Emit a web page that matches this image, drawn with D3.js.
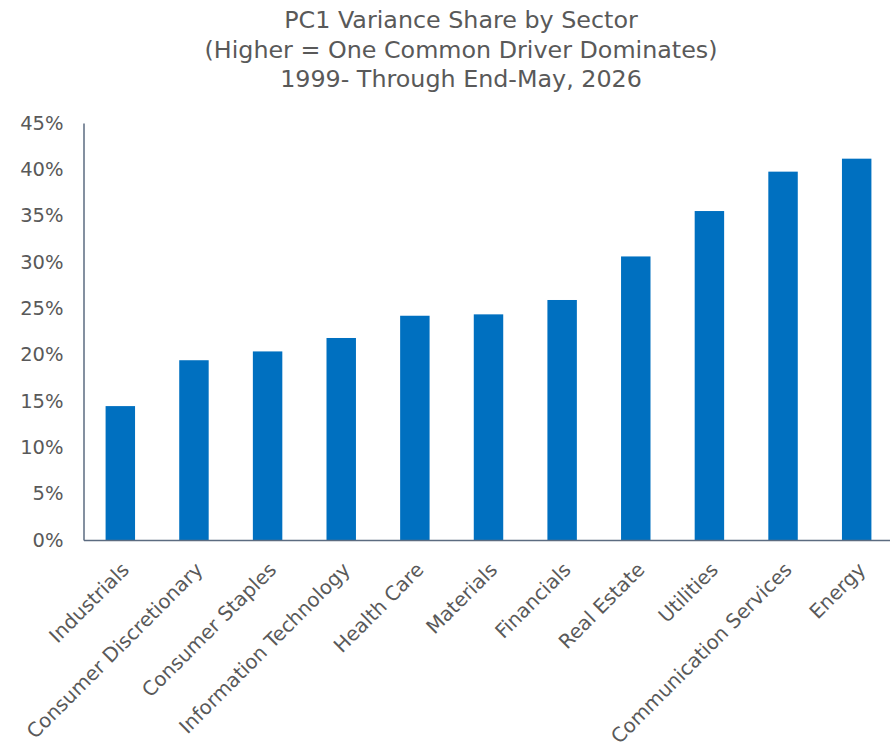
<!DOCTYPE html>
<html>
<head>
<meta charset="utf-8">
<script src="https://cdn.jsdelivr.net/npm/d3@7"></script>
<style>
  body { margin: 0; background: #fff; }
  text { font-family: "DejaVu Sans", sans-serif; fill: #595959; }
</style>
</head>
<body>
<script>
// sectors and PC1 share (%)
var sectors = ["Industrials", "Consumer Discretionary", "Consumer Staples", "Information Technology",
               "Health Care", "Materials", "Financials", "Real Estate", "Utilities",
               "Communication Services", "Energy"];
var pc1Share = [14.45, 19.4, 20.35, 21.8, 24.2, 24.35, 25.9, 30.6, 35.5, 39.75, 41.15];
var yTicks = [0, 5, 10, 15, 20, 25, 30, 35, 40, 45];
var titleLines = ["PC1 Variance Share by Sector",
                  "(Higher = One Common Driver Dominates)",
                  "1999- Through End-May, 2026"];

var width = 890;
var height = 749;

var svg = d3.select("body").append("svg")
  .attr("width", width)
  .attr("height", height);

var data = sectors.map(function(s, i){
  return {sector: s, value: pc1Share[i]};
});

var xScale = d3.scaleBand()
  .domain(sectors)
  .range([83.5, 893.5])
  .paddingInner(0.6)
  .paddingOuter(0.3);

var yScale = d3.scaleLinear()
  .domain([0, 45])
  .range([540, 123]);

// title
svg.append("g").selectAll("text")
  .data(titleLines)
  .enter()
  .append("text")
  .attr("x", 461)
  .attr("y", function(d, i){ return 28 + i * 29.5; })
  .attr("text-anchor", "middle")
  .style("font-size", "23.8px")
  .text(function(d){ return d; });

// bars
svg.append("g").selectAll("rect")
  .data(data)
  .enter()
  .append("rect")
  .attr("x", function(d){ return xScale(d.sector); })
  .attr("width", xScale.bandwidth())
  .attr("y", function(d){ return yScale(d.value); })
  .attr("height", function(d){ return yScale(0) - yScale(d.value); })
  .attr("fill", "#0070C0");

// y axis
var yAxis = svg.append("g")
  .attr("transform", "translate(83.5,0)")
  .call(d3.axisLeft(yScale).tickValues(yTicks).tickSize(0).tickPadding(20)
    .tickFormat(function(d){ return d + "%"; }));
yAxis.select(".domain").attr("stroke", "#5b6b80").attr("stroke-width", 1.5);
yAxis.selectAll("text").style("font-size", "19.5px").attr("fill", "#595959");

// x axis
var xAxis = svg.append("g")
  .attr("transform", "translate(0,540)")
  .call(d3.axisBottom(xScale).tickSize(0).tickSizeOuter(0));
xAxis.select(".domain").attr("stroke", "#5b6b80").attr("stroke-width", 1.5);
xAxis.selectAll("text")
  .style("font-size", "19.8px")
  .attr("fill", "#595959")
  .attr("text-anchor", "end")
  .attr("dy", null)
  .attr("y", 0)
  .attr("transform", "translate(10,31) rotate(-45)");
</script>
</body>
</html>
